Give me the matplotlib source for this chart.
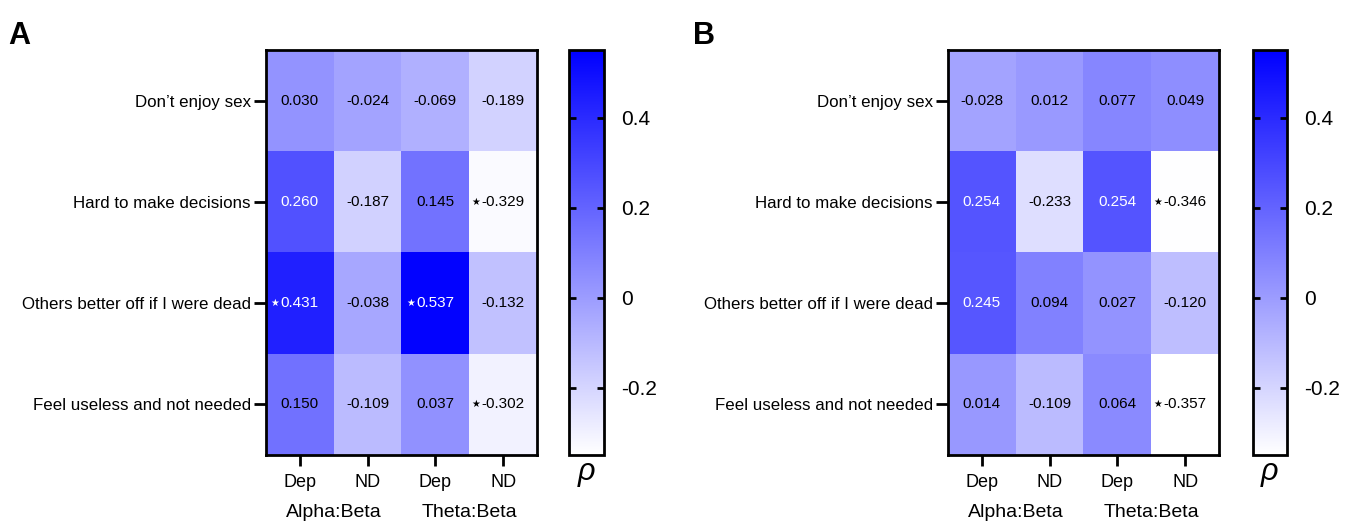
import numpy as np
import matplotlib.pyplot as plt
from matplotlib.colors import LinearSegmentedColormap

plt.rcParams['font.family'] = ['Liberation Sans', 'DejaVu Sans']

# строки (вопросы) и столбцы
rows = ["Don\u2019t enjoy sex", "Hard to make decisions",
        "Others better off if I were dead", "Feel useless and not needed"]
cols = ["Dep", "ND", "Dep", "ND"]
groups = ["Alpha:Beta", "Theta:Beta"]

# панель A
rho_a = np.array([[0.030, -0.024, -0.069, -0.189],
                  [0.260, -0.187, 0.145, -0.329],
                  [0.431, -0.038, 0.537, -0.132],
                  [0.150, -0.109, 0.037, -0.302]])
sig_a = np.array([[0, 0, 0, 0],
                  [0, 0, 0, 1],
                  [1, 0, 1, 0],
                  [0, 0, 0, 1]])

# панель B
rho_b = np.array([[-0.028, 0.012, 0.077, 0.049],
                  [0.254, -0.233, 0.254, -0.346],
                  [0.245, 0.094, 0.027, -0.120],
                  [0.014, -0.109, 0.064, -0.357]])
sig_b = np.array([[0, 0, 0, 0],
                  [0, 0, 0, 1],
                  [0, 0, 0, 0],
                  [0, 0, 0, 1]])

cbar_ticks = [-0.2, 0, 0.2, 0.4]
cbar_labels = ["-0.2", "0", "0.2", "0.4"]

cmap = LinearSegmentedColormap.from_list("wb", ["#ffffff", "#0000ff"])
vmin, vmax = -0.35, 0.55

fig = plt.figure(figsize=(13.5, 5.23), dpi=100)


def panel(ax, cax, rho, sig, letter, lx):
    im = ax.imshow(rho, cmap=cmap, vmin=vmin, vmax=vmax, aspect='auto')
    for i in range(rho.shape[0]):
        for j in range(rho.shape[1]):
            v = rho[i, j]
            col = "white" if v > 0.2 else "black"
            ax.text(j, i, "%.3f" % v, ha='center', va='center', fontsize=11, color=col)
            if sig[i, j]:
                # звёздочка слева от числа
                x0 = j - 0.3 if v > 0 else j - 0.34
                ax.text(x0, i, "\u2605", ha='right', va='center', fontsize=7,
                        color=col, family='DejaVu Sans')
    ax.set_yticks(range(len(rows)))
    ax.set_yticklabels(rows, fontsize=12.2)
    ax.set_xticks(range(len(cols)))
    ax.set_xticklabels(cols, fontsize=13)
    ax.tick_params(axis='y', length=9, width=2, pad=2)
    ax.tick_params(axis='x', length=8, width=2, pad=6)
    for s in ax.spines.values():
        s.set_linewidth(2)
    for k, g in enumerate(groups):
        ax.text(2 * k + 0.5, 4.07, g, ha='center', va='center', fontsize=14,
                transform=ax.transData)
    cb = fig.colorbar(im, cax=cax)
    cb.set_ticks(cbar_ticks)
    cb.set_ticklabels(cbar_labels)
    cb.outline.set_linewidth(2)
    cax.tick_params(direction='in', length=5, width=2, labelsize=15, pad=12,
                    left=True, right=True)
    cax.text(0.5, -0.005, "\u03c1", transform=cax.transAxes, ha='center',
             va='top', fontsize=22, style='italic')
    fig.text(lx, 1 - 44 / 523, letter, fontsize=22, fontweight='bold',
             va='baseline')


h = 405 / 523
b = 68 / 523
ax_a = fig.add_axes([266 / 1350, b, 271 / 1350, h])
cax_a = fig.add_axes([569 / 1350, b, 35 / 1350, h])
ax_b = fig.add_axes([948 / 1350, b, 271 / 1350, h])
cax_b = fig.add_axes([1253 / 1350, b, 34 / 1350, h])

panel(ax_a, cax_a, rho_a, sig_a, "A", 8 / 1350)
panel(ax_b, cax_b, rho_b, sig_b, "B", 693 / 1350)

fig.savefig("out.png", dpi=100)
